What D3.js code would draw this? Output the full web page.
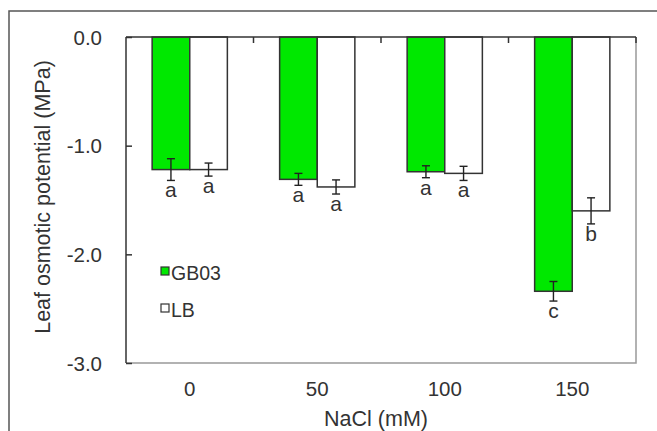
<!DOCTYPE html>
<html><head><meta charset="utf-8">
<script src="https://cdn.jsdelivr.net/npm/d3@7"></script>
<style>body{margin:0;background:#fff}svg{display:block}text{font-family:"Liberation Sans",Arial,sans-serif;fill:#333}</style>
</head><body><svg id="c" width="657" height="431"></svg>
<script>
const categories = ["0", "50", "100", "150"];
const seriesNames = ["GB03", "LB"];
const gb03 = [-1.22, -1.31, -1.24, -2.34];
const gb03Err = [0.10, 0.055, 0.055, 0.09];
const gb03Letters = ["a", "a", "a", "c"];
const lb = [-1.22, -1.38, -1.255, -1.60];
const lbErr = [0.06, 0.065, 0.065, 0.12];
const lbLetters = ["a", "a", "a", "b"];
const yTicks = [0, -1, -2, -3];
const yTickLabels = ["0.0", "-1.0", "-2.0", "-3.0"];
const colors = {GB03: "#00e800", LB: "#ffffff"};

const svg = d3.select("#c");
const L = 126, R = 636, T = 37, B = 363;

// outer frame
svg.append("rect").attr("x", 9).attr("y", 11).attr("width", 700).attr("height", 500)
  .attr("fill", "none").attr("stroke", "#555").attr("stroke-width", 1.5);

const x = d3.scaleBand().domain(categories).range([L, R]).padding(0);
const x1 = d3.scaleBand().domain(seriesNames).range([x.bandwidth() * 0.205, x.bandwidth() * 0.795]);
const y = d3.scaleLinear().domain([0, -3]).range([T, B]);

const rows = [];
categories.forEach((c, i) => {
  rows.push({c, s: "GB03", v: gb03[i], e: gb03Err[i], l: gb03Letters[i]});
  rows.push({c, s: "LB", v: lb[i], e: lbErr[i], l: lbLetters[i]});
});

// frame right/bottom (grey)
svg.append("path").attr("d", `M${L},${B}H${R}V${T}`).attr("fill", "none").attr("stroke", "#999").attr("stroke-width", 1.5);

// bars
svg.selectAll("rect.bar").data(rows).join("rect").attr("class", "bar")
  .attr("x", d => x(d.c) + x1(d.s)).attr("width", x1.bandwidth())
  .attr("y", y(0)).attr("height", d => y(d.v) - y(0))
  .attr("fill", d => colors[d.s]).attr("stroke", "#333").attr("stroke-width", 1.5);

// error bars
const eg = svg.append("g").attr("stroke", "#222").attr("stroke-width", 1.4);
rows.forEach(d => {
  const cx = x(d.c) + x1(d.s) + x1.bandwidth() / 2;
  const y0 = y(d.v + d.e), y1 = y(d.v - d.e);
  eg.append("line").attr("x1", cx).attr("x2", cx).attr("y1", y0).attr("y2", y1);
  eg.append("line").attr("x1", cx - 4).attr("x2", cx + 4).attr("y1", y0).attr("y2", y0);
  eg.append("line").attr("x1", cx - 4).attr("x2", cx + 4).attr("y1", y1).attr("y2", y1);
  svg.append("text").attr("x", cx).attr("y", y1 + 17).attr("text-anchor", "middle")
    .attr("font-size", 21).text(d.l);
});

// left axis
const ya = svg.append("g").attr("transform", `translate(${L},0)`)
  .call(d3.axisRight(y).tickValues(yTicks).tickSize(6).tickFormat(""));
ya.select(".domain").attr("stroke", "#333").attr("stroke-width", 1.5).attr("d", `M0,${T}V${B}`);
ya.selectAll(".tick line").attr("stroke", "#333").attr("stroke-width", 1.5);
svg.selectAll("text.yt").data(yTicks).join("text").attr("class", "yt")
  .attr("x", 102).attr("y", d => y(d) + 7.5).attr("text-anchor", "end").attr("font-size", 20.5)
  .text((d, i) => yTickLabels[i]);

// top axis at zero with ticks at category boundaries
const bounds = categories.map(c => x(c)).concat([R]);
svg.append("line").attr("x1", L).attr("x2", R).attr("y1", y(0)).attr("y2", y(0))
  .attr("stroke", "#333").attr("stroke-width", 1.5);
svg.selectAll("line.tt").data(bounds.slice(1)).join("line").attr("class", "tt")
  .attr("x1", d => d).attr("x2", d => d).attr("y1", y(0)).attr("y2", y(0) + 6)
  .attr("stroke", "#333").attr("stroke-width", 1.5);

// x tick labels
svg.selectAll("text.xt").data(categories).join("text").attr("class", "xt")
  .attr("x", d => x(d) + x.bandwidth() / 2).attr("y", 396).attr("text-anchor", "middle")
  .attr("font-size", 20.5).text(d => d);

// titles
svg.append("text").attr("x", (L + R) / 2 - 5).attr("y", 426).attr("text-anchor", "middle")
  .attr("font-size", 21.5).text("NaCl (mM)");
svg.append("text").attr("transform", "translate(50,197) rotate(-90)").attr("text-anchor", "middle")
  .attr("font-size", 21.5).text("Leaf osmotic potential (MPa)");

// legend
const lg = svg.append("g");
seriesNames.forEach((s, i) => {
  const yy = 271 + i * 37;
  lg.append("rect").attr("x", 161).attr("y", yy - 4).attr("width", 8).attr("height", 8)
    .attr("fill", colors[s]).attr("stroke", "#333").attr("stroke-width", 1.2);
  lg.append("text").attr("x", 171).attr("y", yy + 9).attr("font-size", 19.5).text(s);
});
</script></body></html>
